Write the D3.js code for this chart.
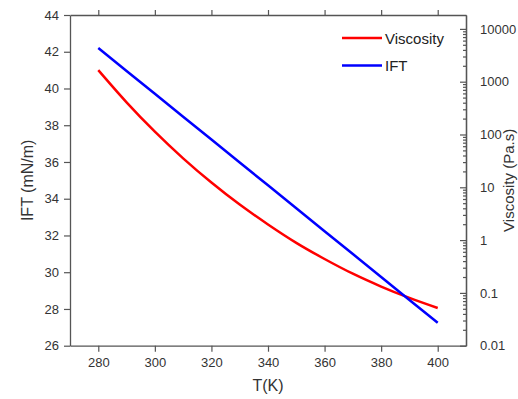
<!DOCTYPE html>
<html><head><meta charset="utf-8">
<script src="https://cdn.jsdelivr.net/npm/d3@7"></script>
<style>body{margin:0;background:#fff}svg{display:block}text{font-family:"Liberation Sans",Arial,sans-serif}</style>
</head><body><svg width="518" height="399"></svg>
<script>
const temps = [280,290,300,310,320,330,340,350,360,370,380,390,400];
const viscosity = [1656,407,113,35.4,12.3,4.70,1.98,0.888,0.439,0.231,0.132,0.0803,0.0517];
const ift = [42.2,40.95,39.71,38.46,37.22,35.97,34.73,33.48,32.23,30.99,29.74,28.49,27.25];
const xTicks = [280,300,320,340,360,380,400];
const leftTicks = [26,28,30,32,34,36,38,40,42,44];
const rightTicks = [0.01,0.1,1,10,100,1000,10000];
const rightTickLabels = ["0.01","0.1","1","10","100","1000","10000"];
const series = [{name:"Viscosity",color:"#ff0000"},{name:"IFT",color:"#0000ff"}];

const svg = d3.select("svg");
const L=70,R=466,T=15,B=345.7;
const x = d3.scaleLinear().domain([270,410]).range([L,R]);
const yL = d3.scaleLinear().domain([26,44]).range([B,T]);
const yR = d3.scaleLog().domain([0.01,Math.pow(10,4.263)]).range([B,T]);
const axisColor="#555", textColor="#333";

function style(g){
  g.select(".domain").attr("stroke",axisColor).attr("stroke-width",1.3);
  g.selectAll(".tick line").attr("stroke",axisColor).attr("stroke-width",1.2);
  g.selectAll(".tick text").attr("fill",textColor).style("font-size","13px");
}
svg.append("g").attr("transform",`translate(0,${B})`)
  .call(d3.axisBottom(x).tickValues(xTicks).tickSize(6).tickSizeOuter(0).tickPadding(6)).call(style);
svg.append("g").attr("transform",`translate(0,${T})`)
  .call(d3.axisTop(x).tickValues(xTicks).tickSize(5).tickSizeOuter(0).tickFormat("")).call(style);
svg.append("g").attr("transform",`translate(${L},0)`)
  .call(d3.axisLeft(yL).tickValues(leftTicks).tickSize(6).tickSizeOuter(0).tickPadding(5)).call(style);
// right log axis, ticks inward
const minor=[];
for(let e=-2;e<=4;e++){for(let k=2;k<=9;k++){const v=k*Math.pow(10,e); if(v<=yR.domain()[1]) minor.push(v);}}
svg.append("g").attr("transform",`translate(${R},0)`)
  .call(d3.axisRight(yR).tickValues(minor).tickSize(-3).tickSizeOuter(0).tickFormat("")).call(style);
svg.append("g").attr("transform",`translate(${R},0)`)
  .call(d3.axisRight(yR).tickValues(rightTicks).tickSize(-6).tickSizeOuter(0).tickPadding(14)
    .tickFormat((d,i)=>rightTickLabels[i])).call(style);

// titles
svg.append("text").attr("x",268).attr("y",391).attr("text-anchor","middle")
  .attr("fill",textColor).style("font-size","16px").text("T(K)");
svg.append("text").attr("transform",`translate(33,${(T+B)/2}) rotate(-90)`).attr("text-anchor","middle")
  .attr("fill",textColor).style("font-size","16px").text("IFT (mN/m)");
svg.append("text").attr("transform",`translate(514,${(T+B)/2}) rotate(-90)`).attr("text-anchor","middle")
  .attr("fill",textColor).style("font-size","15px").text("Viscosity (Pa.s)");

// lines
const lineV = d3.line().x((d,i)=>x(temps[i])).y(d=>yR(d)).curve(d3.curveMonotoneX);
const lineI = d3.line().x((d,i)=>x(temps[i])).y(d=>yL(d));
svg.append("path").datum(viscosity).attr("d",lineV).attr("fill","none").attr("stroke",series[0].color).attr("stroke-width",2.5);
svg.append("path").datum(ift).attr("d",lineI).attr("fill","none").attr("stroke",series[1].color).attr("stroke-width",2.5);

// legend
const lg = svg.append("g");
series.forEach((s,i)=>{
  const yy = 38 + i*27.5;
  lg.append("line").attr("x1",342).attr("x2",382).attr("y1",yy).attr("y2",yy).attr("stroke",s.color).attr("stroke-width",2.5);
  lg.append("text").attr("x",385).attr("y",yy+5.5).attr("fill","#222").style("font-size","15px").text(s.name);
});
</script></body></html>
